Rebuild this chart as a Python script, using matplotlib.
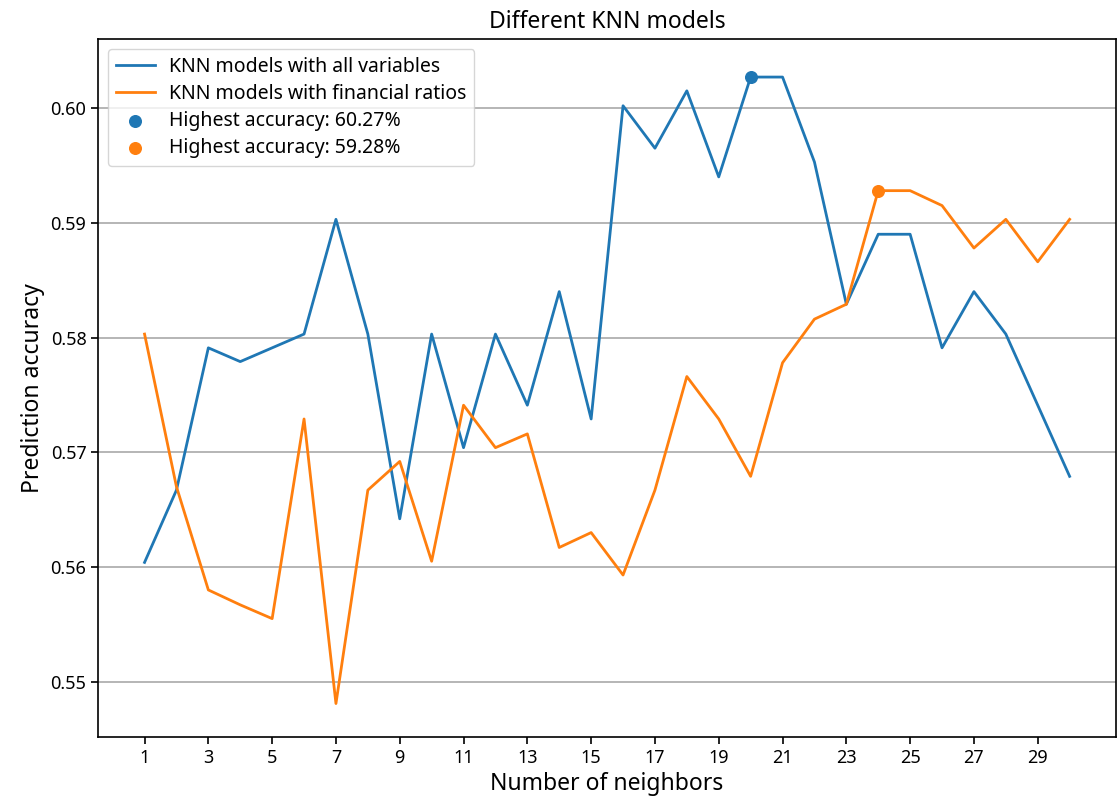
import matplotlib
matplotlib.use("Agg")
import matplotlib.pyplot as plt

plt.rcParams['font.family'] = ['Noto Sans', 'DejaVu Sans']

neighbors = list(range(1, 31))
acc_all = [0.5604, 0.5667, 0.5791, 0.5779, 0.5791, 0.5803, 0.5903, 0.5803, 0.5642, 0.5803,
           0.5704, 0.5803, 0.5741, 0.5840, 0.5729, 0.6002, 0.5965, 0.6015, 0.5940, 0.6027,
           0.6027, 0.5953, 0.5829, 0.5890, 0.5890, 0.5791, 0.5840, 0.5803, 0.5741, 0.5679]
acc_fin = [0.5803, 0.5670, 0.5580, 0.5567, 0.5555, 0.5729, 0.5481, 0.5667, 0.5692, 0.5605,
           0.5741, 0.5704, 0.5716, 0.5617, 0.5630, 0.5593, 0.5667, 0.5766, 0.5729, 0.5679,
           0.5778, 0.5816, 0.5829, 0.5928, 0.5928, 0.5915, 0.5878, 0.5903, 0.5866, 0.5903]
best_all_k, best_all = 20, 0.6027
best_fin_k, best_fin = 24, 0.5928
xticks = list(range(1, 30, 2))
yticks = [0.55, 0.56, 0.57, 0.58, 0.59, 0.60]

fig = plt.figure(figsize=(11.17, 8), dpi=100)
ax = fig.add_axes([0.088, 0.079, 0.911, 0.872])
ax.plot(neighbors, acc_all, color="#1f77b4", lw=2, label="KNN models with all variables")
ax.plot(neighbors, acc_fin, color="#ff7f0e", lw=2, label="KNN models with financial ratios")
ax.scatter([best_all_k], [best_all], color="#1f77b4", s=70, zorder=3,
           label=f"Highest accuracy: {best_all*100:.2f}%")
ax.scatter([best_fin_k], [best_fin], color="#ff7f0e", s=70, zorder=3,
           label=f"Highest accuracy: {best_fin*100:.2f}%")
ax.set_xticks(xticks)
ax.set_yticks(yticks)
ax.set_xlim(-0.45, 31.45)
ax.set_ylim(0.5452, 0.6060)
ax.tick_params(labelsize=13, length=5, width=1.2)
for s in ax.spines.values():
    s.set_linewidth(1.2)
ax.grid(axis="y", color="#b0b0b0", lw=1.3)
ax.set_axisbelow(True)
ax.set_title("Different KNN models", fontsize=16.5, pad=8)
ax.set_xlabel("Number of neighbors", fontsize=16.5)
ax.set_ylabel("Prediction accuracy", fontsize=16.5)
ax.legend(loc="upper left", fontsize=14, handlelength=2.0, handletextpad=0.75,
          labelspacing=0.37, borderaxespad=0.5)
fig.savefig("out.png", dpi=100)
